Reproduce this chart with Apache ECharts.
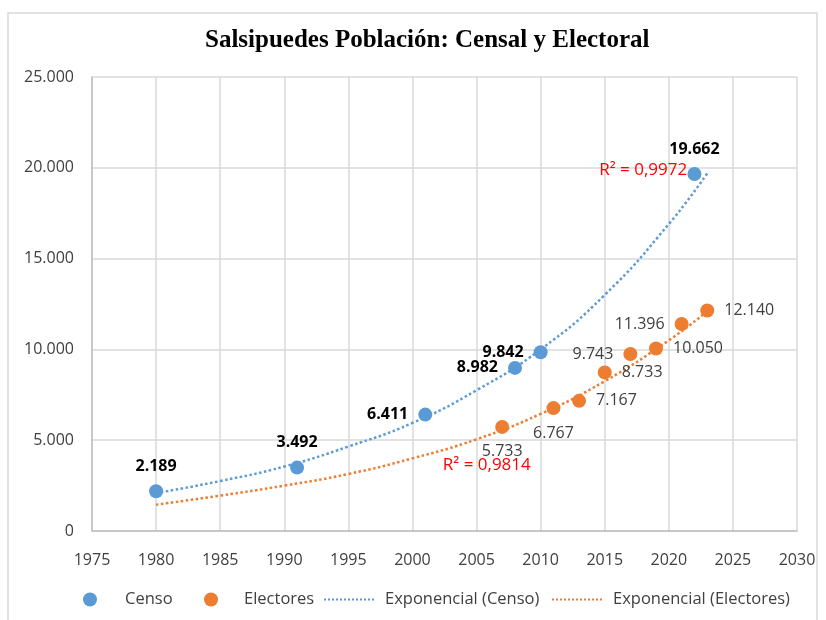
<!DOCTYPE html>
<html><head><meta charset="utf-8">
<script src="https://cdn.jsdelivr.net/npm/echarts@6/dist/echarts.min.js"></script>
<style>html,body{margin:0;padding:0;background:#fff}#c{width:826px;height:620px}</style>
</head><body><div id="c"></div>
<script>
const titleText = 'Salsipuedes Población: Censal y Electoral';
const censoYears = [1980, 1991, 2001, 2008, 2010, 2022];
const censoValues = [2189, 3492, 6411, 8982, 9842, 19662];
const electYears = [2007, 2011, 2013, 2015, 2017, 2019, 2021, 2023];
const electValues = [5733, 6767, 7167, 8733, 9743, 10050, 11396, 12140];
// trendlines
const trendYears = [1980, 1985, 1990, 1995, 2000, 2005, 2010, 2015, 2020, 2023];
const trendCenso = [2090, 2750, 3550, 4650, 5950, 7750, 10000, 13000, 16900, 19700];
const trendElect = [1450, 1950, 2500, 3140, 4000, 5050, 6450, 8250, 10500, 12100];
const r2Censo = 'R² = 0,9972';
const r2Elect = 'R² = 0,9814';
const r2CensoAt = [2018.0, 19880];
const r2ElectAt = [2005.8, 3620];

const fmt = v => String(v).replace(/\B(?=(\d{3})+(?!\d))/g, '.');
const FONT = 'Open Sans';
const censoPos = ['top', 'top', 'left', 'left', 'left', 'top'];
const electPos = ['bottom', 'bottom', 'right', 'right', 'left', 'right', 'left', 'right'];

const legendText = pad => ({color: '#404040', fontFamily: FONT, fontSize: 16.5, padding: [0, 0, 0, pad]});
const mkLegend = (name, left, w, pad, extra) => Object.assign({
  bottom: 7, left: left, itemWidth: w, itemHeight: 14, textStyle: legendText(pad), data: [name]}, extra || {});

const chart = echarts.init(document.getElementById('c'));
chart.setOption({
  animation: false,
  graphic: [{type: 'rect', shape: {x: 8, y: 13, width: 809, height: 620}, style: {fill: 'none', stroke: '#d9d9d9', lineWidth: 1.5}, z: -1}],
  title: {text: titleText, left: 200, top: 23, textStyle: {fontFamily: 'Liberation Serif', fontWeight: 'bold', fontSize: 25, color: '#000'}},
  grid: {left: 92, right: 29, top: 77, bottom: 89},
  xAxis: {type: 'value', min: 1975, max: 2030, interval: 5,
    axisLine: {show: true, lineStyle: {color: '#bfbfbf', width: 1.5}}, axisTick: {show: false},
    axisLabel: {color: '#404040', fontFamily: FONT, fontSize: 16, margin: 21, formatter: v => String(v)},
    splitLine: {show: true, lineStyle: {color: '#d9d9d9', width: 1.5}}},
  yAxis: {type: 'value', min: 0, max: 25000, interval: 5000,
    axisLine: {show: true, lineStyle: {color: '#bfbfbf', width: 1.5}}, axisTick: {show: false},
    axisLabel: {color: '#404040', fontFamily: FONT, fontSize: 16, margin: 18, formatter: fmt},
    splitLine: {show: true, lineStyle: {color: '#d9d9d9', width: 1.5}}},
  legend: [
    mkLegend({name: 'Censo', icon: 'circle'}, 78, 14, 23),
    mkLegend({name: 'Electores', icon: 'circle'}, 199, 14, 21),
    mkLegend({name: 'Exponencial (Censo)', itemStyle: {opacity: 0}}, 318, 52, 4),
    mkLegend({name: 'Exponencial (Electores)', itemStyle: {opacity: 0}}, 546, 52, 4)
  ],
  series: [
    {name: 'Exponencial (Censo)', type: 'line', smooth: true, symbol: 'none', z: 1,
      lineStyle: {color: '#5B9BD5', width: 2.5, type: 'dotted'}, itemStyle: {color: '#5B9BD5'},
      data: trendYears.map((y, i) => [y, trendCenso[i]])},
    {name: 'Exponencial (Electores)', type: 'line', smooth: true, symbol: 'none', z: 1,
      lineStyle: {color: '#ED7D31', width: 2.5, type: 'dotted'}, itemStyle: {color: '#ED7D31'},
      data: trendYears.map((y, i) => [y, trendElect[i]])},
    {name: 'Censo', type: 'scatter', symbolSize: 14, z: 3, itemStyle: {color: '#5B9BD5', opacity: 1},
      label: {show: true, distance: 10, fontFamily: FONT, fontSize: 16, fontWeight: 'bold', color: '#000', formatter: p => fmt(p.value[1])},
      data: censoYears.map((y, i) => ({value: [y, censoValues[i]], label: {position: censoPos[i]}})),
      markPoint: {symbol: 'circle', symbolSize: 0, silent: true,
        label: {show: true, position: 'inside', color: '#FF0000', fontFamily: FONT, fontSize: 17, formatter: r2Censo},
        data: [{coord: r2CensoAt}]}},
    {name: 'Electores', type: 'scatter', symbolSize: 14, z: 3, itemStyle: {color: '#ED7D31', opacity: 1},
      label: {show: true, distance: 10, fontFamily: FONT, fontSize: 16, color: '#404040', formatter: p => fmt(p.value[1])},
      data: electYears.map((y, i) => ({value: [y, electValues[i]], label: {position: electPos[i]}})),
      markPoint: {symbol: 'circle', symbolSize: 0, silent: true,
        label: {show: true, position: 'inside', color: '#FF0000', fontFamily: FONT, fontSize: 17, formatter: r2Elect},
        data: [{coord: r2ElectAt}]}}
  ]
});
</script></body></html>
